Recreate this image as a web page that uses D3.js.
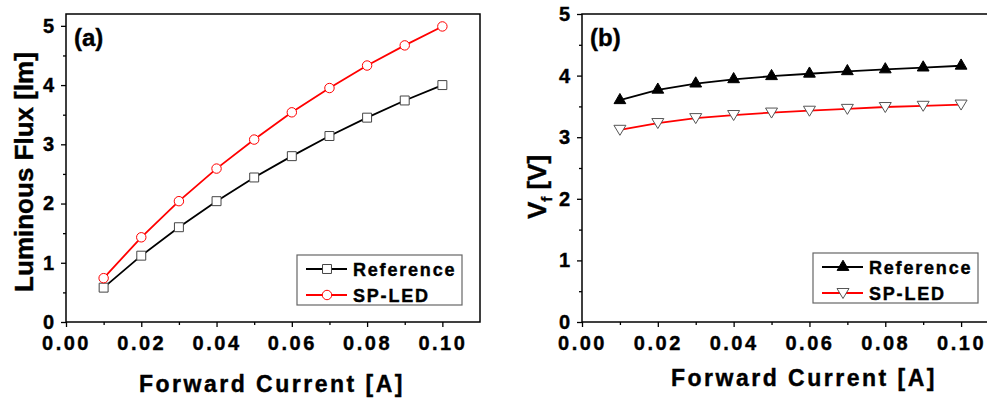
<!DOCTYPE html>
<html>
<head>
<meta charset="utf-8">
<script src="https://cdn.jsdelivr.net/npm/d3@7"></script>
<style>
  body { margin: 0; background: #fff; }
  svg { display: block; font-family: "Liberation Sans", Arial, sans-serif; font-weight: bold; }
  svg text { stroke: #000; stroke-width: 0.4px; }
  .tick text { font-size: 20px; letter-spacing: 2.5px; fill: #000; }
</style>
</head>
<body>
<div id="chart"></div>
<script>
// forward current [A]
var current = [0.01, 0.02, 0.03, 0.04, 0.05, 0.06, 0.07, 0.08, 0.09, 0.10];

// (a) luminous flux [lm]
var fluxReference = [0.58, 1.12, 1.60, 2.04, 2.44, 2.80, 3.14, 3.45, 3.74, 4.00];
var fluxSpLed     = [0.74, 1.43, 2.04, 2.59, 3.08, 3.54, 3.95, 4.33, 4.67, 4.99];

// (b) forward voltage [V]
var vfReference = [3.60, 3.77, 3.87, 3.94, 3.99, 4.03, 4.07, 4.10, 4.13, 4.16];
var vfSpLed     = [3.12, 3.23, 3.31, 3.36, 3.40, 3.43, 3.46, 3.49, 3.51, 3.53];

var xTicks = [0, 0.02, 0.04, 0.06, 0.08, 0.10];
var yTicks = [0, 1, 2, 3, 4, 5];
var seriesNames = ["Reference", "SP-LED"];

var svg = d3.select("#chart").append("svg")
    .attr("width", 987)
    .attr("height", 398);

function drawPanel(p) {
  var x = d3.scaleLinear().domain([0, 0.11]).range([p.left, p.left + p.w]);
  var y = d3.scaleLinear().domain([0, p.ymax]).range([p.bottom, p.top]);

  var g = svg.append("g");

  // minor ticks
  g.append("g")
      .attr("transform", "translate(0," + p.bottom + ")")
      .call(d3.axisBottom(x).tickValues(d3.range(0.01, 0.11, 0.02)).tickSize(3).tickFormat(""));
  g.append("g")
      .attr("transform", "translate(" + p.left + ",0)")
      .call(d3.axisLeft(y).tickValues(d3.range(0.5, p.ymax, 1)).tickSize(3).tickFormat(""));

  // major axes
  g.append("g")
      .attr("transform", "translate(0," + p.bottom + ")")
      .call(d3.axisBottom(x).tickValues(xTicks).tickSize(5).tickPadding(8.8).tickFormat(d3.format(".2f")));
  g.append("g")
      .attr("transform", "translate(" + p.left + ",0)")
      .call(d3.axisLeft(y).tickValues(yTicks).tickSize(5).tickPadding(4.5).tickFormat(d3.format("d")));

  g.selectAll(".tick line").attr("stroke", "#000").attr("stroke-width", 1.3);
  g.selectAll(".domain").remove();

  // frame
  g.append("rect")
      .attr("x", p.left).attr("y", p.top)
      .attr("width", p.w).attr("height", p.bottom - p.top)
      .attr("fill", "none").attr("stroke", "#000").attr("stroke-width", 1.5);

  var line = d3.line()
      .x(function(d) { return x(d[0]); })
      .y(function(d) { return y(d[1]); });

  p.series.forEach(function(s) {
    var pts = current.map(function(c, i) { return [c, s.values[i]]; });
    g.append("path")
        .datum(pts)
        .attr("d", line)
        .attr("fill", "none")
        .attr("stroke", s.color)
        .attr("stroke-width", 1.8);
    g.selectAll(null)
        .data(pts)
      .enter().append("path")
        .attr("transform", function(d) { return "translate(" + x(d[0]) + "," + y(d[1]) + ")"; })
        .attr("d", s.symbol)
        .attr("fill", s.fill)
        .attr("stroke", s.stroke)
        .attr("stroke-width", 1);
  });

  // panel label
  g.append("text")
      .attr("x", p.left + 8).attr("y", 46)
      .style("font-size", "24px")
      .text(p.tag);

  // axis titles
  g.append("text")
      .attr("x", p.xTitleX).attr("y", p.xTitleY)
      .attr("text-anchor", "middle")
      .style("font-size", "23px")
      .style("letter-spacing", "2.5px")
      .text("Forward Current [A]");

  var yt = g.append("text")
      .attr("transform", "translate(" + p.yTitleX + "," + p.yTitleY + ") rotate(-90)")
      .attr("text-anchor", "middle")
      .style("font-size", "26px");
  p.yTitle(yt);

  // legend
  var lg = g.append("g").attr("transform", "translate(" + p.legX + "," + p.legY + ")");
  lg.append("rect")
      .attr("width", 165).attr("height", 50)
      .attr("fill", "#fff").attr("stroke", "#666").attr("stroke-width", 1.2);
  p.series.forEach(function(s, i) {
    var ry = 14 + i * 26;
    lg.append("line")
        .attr("x1", 9).attr("x2", 50).attr("y1", ry).attr("y2", ry)
        .attr("stroke", s.color).attr("stroke-width", 1.8);
    lg.append("path")
        .attr("transform", "translate(30," + ry + ")")
        .attr("d", s.symbol)
        .attr("fill", s.fill).attr("stroke", s.stroke).attr("stroke-width", 1);
    lg.append("text")
        .attr("x", 56).attr("y", ry + 6.5)
        .style("font-size", "18px")
        .style("letter-spacing", "1.8px")
        .text(seriesNames[i]);
  });
}

var sq = d3.symbol().type(d3.symbolSquare).size(80)();
var circ = d3.symbol().type(d3.symbolCircle).size(70)();
var triUp = d3.symbol().type(d3.symbolTriangle).size(60)();
var triDown = "M0,5.5L-6,-4.5L6,-4.5Z";

drawPanel({
  left: 66, top: 14, w: 414, bottom: 322, ymax: 5.2,
  tag: "(a)",
  xTitleX: 272, xTitleY: 392,
  yTitleX: 33, yTitleY: 172,
  yTitle: function(t) { t.text("Luminous Flux [lm]"); },
  legX: 297, legY: 255,
  series: [
    {values: fluxReference, color: "#000", symbol: sq, fill: "#fff", stroke: "#444"},
    {values: fluxSpLed, color: "#f00", symbol: circ, fill: "#fff", stroke: "#f00"}
  ]
});

drawPanel({
  left: 582, top: 14, w: 417, bottom: 322, ymax: 5,
  tag: "(b)",
  xTitleX: 804, xTitleY: 386,
  yTitleX: 546, yTitleY: 187,
  yTitle: function(t) {
    t.append("tspan").text("V");
    t.append("tspan").attr("dy", 6).style("font-size", "15px").text("f");
    t.append("tspan").attr("dy", -6).text(" [V]");
  },
  legX: 813, legY: 253,
  series: [
    {values: vfReference, color: "#000", symbol: triUp, fill: "#000", stroke: "#000"},
    {values: vfSpLed, color: "#f00", symbol: triDown, fill: "#fff", stroke: "#555"}
  ]
});
</script>
</body>
</html>
